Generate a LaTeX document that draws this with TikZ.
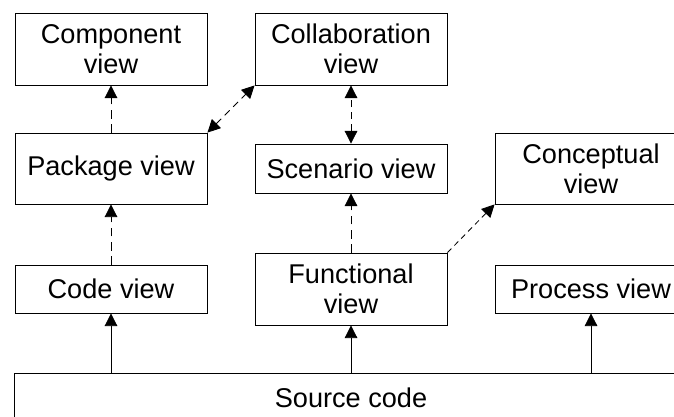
\documentclass[tikz,border=0pt]{standalone}
\usepackage{fontspec}
\setmainfont{Liberation Sans}
\usetikzlibrary{arrows.meta}
\tikzset{every picture/.style={line width=0.6pt}}
\tikzset{
  viewbox/.style={draw, align=center, inner sep=0pt,
                  minimum width=4.8cm, minimum height=#1,
                  font=\fontsize{19.3}{21.5}\selectfont},
  viewbox/.default={1.2cm}, % default height of a box
  uses/.style={-{Triangle[length=9pt,width=9pt]}},
  link/.style={uses, dash pattern=on 6pt off 4pt},
  twolink/.style={{Triangle[length=9pt,width=9pt]}-{Triangle[length=9pt,width=9pt]},
                  dash pattern=on 5pt off 3.5pt},
}

\begin{document}
\begin{tikzpicture}[x=0.025cm, y=-0.025cm]
  % frame of the picture | boxes on the right run past the edge
  \useasboundingbox (0,0) rectangle (674,416);
  \clip (0,0) rectangle (674,416);
  % views
  \node[viewbox=1.8cm] (comp) at (111,49) {Component\\view};
  \node[viewbox=1.8cm] (collab) at (351,49) {Collaboration\\view};
  \node[viewbox=1.775cm] (pkg) at (111,168.5) {Package view};
  \node[viewbox=1.225cm] (scen) at (351,168.5) {Scenario view};
  \node[viewbox=1.775cm] (concept) at (591,168.5) {Conceptual\\view};
  \node[viewbox] (code) at (111,289) {Code view};
  \node[viewbox=1.8cm] (func) at (351,289) {Functional\\view};
  \node[viewbox] (proc) at (591,289) {Process view};
  \node[viewbox=1.25cm, minimum width=16.8cm] (src) at (351,398) {Source code};
  % extracted from the source code
  \foreach \v in {code,func,proc}
    \draw[uses] (\v.south |- src.north) -- (\v.south);
  % derived views
  \draw[link] (code) -- (pkg);
  \draw[link] (pkg) -- (comp);
  \draw[link] (func) -- (scen);
  \draw[link, dash pattern=on 4pt off 3pt] (func.north east) -- (concept.south west);
  \draw[twolink] (pkg.north east) -- (collab.south west);
  \draw[twolink] (scen) -- (collab);
\end{tikzpicture}
\end{document}
